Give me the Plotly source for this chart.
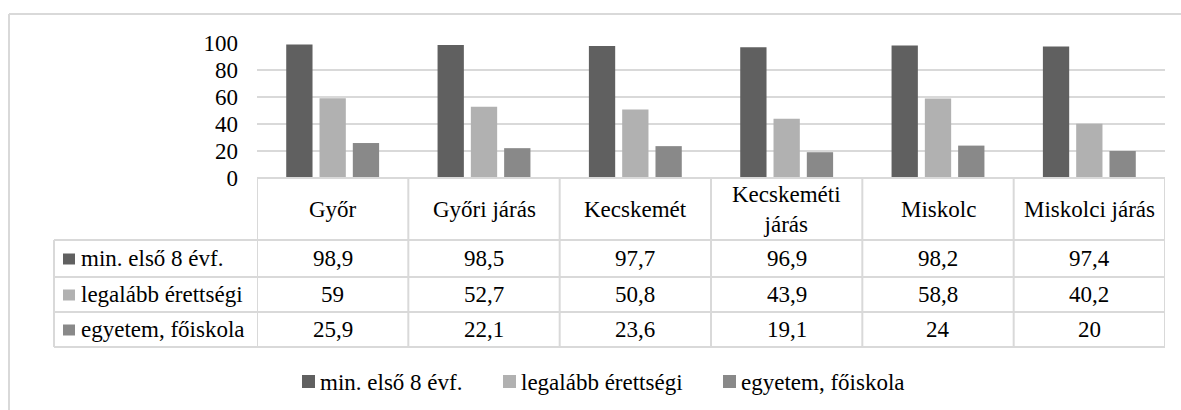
import plotly.graph_objects as go

W, H = 1181, 410

categories = ["Győr", "Győri járás", "Kecskemét", "Kecskeméti<br>járás", "Miskolc", "Miskolci járás"]
series_names = ["min. első 8 évf.", "legalább érettségi", "egyetem, főiskola"]
alap = [98.9, 98.5, 97.7, 96.9, 98.2, 97.4]
erettsegi = [59, 52.7, 50.8, 43.9, 58.8, 40.2]
felsofok = [25.9, 22.1, 23.6, 19.1, 24, 20]
y_ticks = [0, 20, 40, 60, 80, 100]

colors = ["#606060", "#b1b1b1", "#898989"]
series_values = [alap, erettsegi, felsofok]
FONT = "'Liberation Serif', 'Times New Roman', Times, serif"
LINE = "#d9d9d9"


def px(x):
    return x / W


def py(y):
    return 1 - y / H


def fmt(v):
    return f"{v:g}".replace(".", ",")


fig = go.Figure()
xs = list(range(len(categories)))
for name, vals, col in zip(series_names, series_values, colors):
    fig.add_trace(go.Bar(
        x=xs, y=vals, name=name,
        marker=dict(color=col, line=dict(width=0)),
        showlegend=False,
    ))

shapes = []
annotations = []

# outer chart border (top and left)
shapes.append(dict(type="line", xref="paper", yref="paper", x0=px(9), x1=px(W + 5), y0=py(14), y1=py(14),
                   line=dict(color=LINE, width=2)))
shapes.append(dict(type="line", xref="paper", yref="paper", x0=px(9), x1=px(9), y0=py(14), y1=py(H + 5),
                   line=dict(color=LINE, width=2)))

# data table grid
row_y = [178, 240, 277, 312, 347]
shapes.append(dict(type="line", xref="x", yref="paper", x0=-0.5, x1=len(categories) - 0.5,
                   y0=py(row_y[0]), y1=py(row_y[0]), line=dict(color=LINE, width=2)))
for yy in row_y[1:]:
    shapes.append(dict(type="line", xref="paper", yref="paper", x0=px(54), x1=px(1165),
                       y0=py(yy), y1=py(yy), line=dict(color=LINE, width=2)))
for i in range(len(categories) + 1):
    shapes.append(dict(type="line", xref="x", yref="paper", x0=i - 0.5, x1=i - 0.5,
                       y0=py(row_y[0]), y1=py(row_y[-1]), line=dict(color=LINE, width=2)))
shapes.append(dict(type="line", xref="paper", yref="paper", x0=px(54), x1=px(54),
                   y0=py(row_y[1]), y1=py(row_y[-1]), line=dict(color=LINE, width=2)))

tfont = dict(family=FONT, size=23, color="#000000")

# header row
for i, c in enumerate(categories):
    annotations.append(dict(xref="x", yref="paper", x=i, y=py((row_y[0] + row_y[1]) / 2),
                            text=c, showarrow=False, font=tfont, xanchor="center", yanchor="middle"))

# value rows
for r, (name, vals, col) in enumerate(zip(series_names, series_values, colors)):
    yc = (row_y[r + 1] + row_y[r + 2]) / 2
    shapes.append(dict(type="rect", xref="paper", yref="paper", x0=px(63), x1=px(75),
                       y0=py(yc - 5), y1=py(yc + 6), fillcolor=col, line=dict(width=0)))
    annotations.append(dict(xref="paper", yref="paper", x=px(79), y=py(yc), text=name,
                            showarrow=False, font=tfont, xanchor="left", yanchor="middle"))
    for i, v in enumerate(vals):
        annotations.append(dict(xref="x", yref="paper", x=i, y=py(yc), text=fmt(v),
                                showarrow=False, font=tfont, xanchor="center", yanchor="middle"))

# legend below the table
leg_x = [302, 503, 723]
leg_y = 382
for lx, name, col in zip(leg_x, series_names, colors):
    shapes.append(dict(type="rect", xref="paper", yref="paper", x0=px(lx), x1=px(lx + 13),
                       y0=py(leg_y - 7), y1=py(leg_y + 6), fillcolor=col, line=dict(width=0)))
    annotations.append(dict(xref="paper", yref="paper", x=px(lx + 16), y=py(leg_y), text=name,
                            showarrow=False, font=tfont, xanchor="left", yanchor="middle"))

fig.update_layout(
    width=W, height=H,
    margin=dict(l=0, r=0, t=0, b=0, pad=0, autoexpand=False),
    paper_bgcolor="white", plot_bgcolor="white",
    barmode="group", bargap=0.34, bargroupgap=0.21,
    font=dict(family=FONT, size=23, color="#000000"),
    xaxis=dict(domain=[px(257), px(1165)], range=[-0.5, len(categories) - 0.5], automargin=False,
               showticklabels=False, showgrid=False, zeroline=False, showline=False, ticks=""),
    yaxis=dict(domain=[py(178), py(43)], range=[0, 100], tickvals=y_ticks, automargin=False,
               showgrid=True, gridcolor=LINE, gridwidth=2, zeroline=False, showline=False,
               ticks="", ticklabelstandoff=18, tickfont=tfont),
    shapes=shapes,
    annotations=annotations,
    showlegend=False,
)

fig.write_html("out.html", config={"displayModeBar": False},
               post_script="document.body.style.margin='0';")
